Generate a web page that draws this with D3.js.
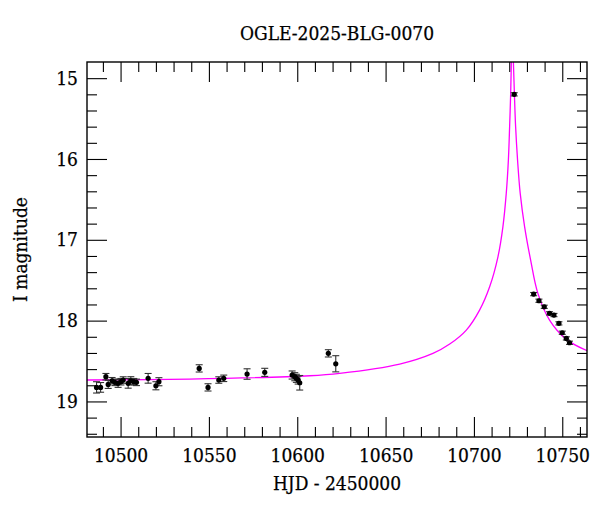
<!DOCTYPE html>
<html><head><meta charset="utf-8">
<script src="https://cdn.jsdelivr.net/npm/d3@7"></script>
<style>
html,body{margin:0;padding:0;background:#fff;}
text{font-family:"DejaVu Serif Condensed","DejaVu Serif",serif;font-stretch:condensed;fill:#000;stroke:#000;stroke-width:0.25px;}
</style></head>
<body>
<svg id="c" width="600" height="512"></svg>
<script>
// ---- data ----
const title = "OGLE-2025-BLG-0070";
const xLabel = "HJD - 2450000";
const yLabel = "I magnitude";

const obsHJD = [10486.4,10488.7,10491.7,10493.0,10495.2,10496.8,10498.6,10500.2,10501.5,10504.3,10505.8,10507.5,10509.0,10515.6,10520.0,10521.7,10544.5,10549.5,10555.6,10558.4,10571.6,10581.6,10597.1,10598.6,10599.5,10600.5,10601.4,10617.6,10621.8,10722.8,10733.8,10736.8,10739.8,10742.8,10745.3,10748.1,10750.0,10752.3,10754.1];
const obsMag = [18.826,18.826,18.694,18.789,18.744,18.764,18.776,18.756,18.735,18.776,18.744,18.756,18.764,18.714,18.806,18.756,18.591,18.826,18.735,18.714,18.661,18.640,18.673,18.694,18.714,18.735,18.769,18.405,18.534,15.200,17.672,17.754,17.829,17.910,17.931,18.034,18.150,18.220,18.274];
const obsErr = [0.070,0.060,0.040,0.050,0.040,0.040,0.050,0.040,0.040,0.060,0.050,0.040,0.040,0.060,0.050,0.050,0.045,0.045,0.040,0.040,0.065,0.050,0.050,0.050,0.050,0.050,0.090,0.045,0.100,0.020,0.020,0.020,0.020,0.020,0.020,0.020,0.020,0.020,0.020];

const modelHJD = [10481,10539,10607,10624,10658,10676.8,10686.3,10695.7,10703.2,10708.9,10713.6,10716.4,10718.3,10719.5,10720.2,10720.8,10721.2,10721.7,10722.3,10722.9,10723.6,10724.7,10726.2,10728.7,10732.1,10736.2,10742.8,10752.3,10764.1];
const modelMag = [18.735,18.723,18.682,18.652,18.537,18.405,18.290,18.117,17.870,17.581,17.210,16.839,16.426,16.014,15.602,15.189,14.777,14.45,14.777,15.189,15.602,16.014,16.426,16.839,17.251,17.663,17.993,18.232,18.373];

const xDomain = [10481, 10764];
const yDomain = [14.8, 19.44];
const xMajorTicks = [10500,10550,10600,10650,10700,10750];
const xMinorTicks = [10490,10510,10520,10530,10540,10560,10570,10580,10590,10610,10620,10630,10640,10660,10670,10680,10690,10710,10720,10730,10740,10760];
const yMajorTicks = [15,16,17,18,19];
const yMinorTicks = [15.2,15.4,15.6,15.8,16.2,16.4,16.6,16.8,17.2,17.4,17.6,17.8,18.2,18.4,18.6,18.8,19.2,19.4];

// ---- layout ----
const L = 87, T = 62, W = 500, H = 375;
const svg = d3.select("#c");
const x = d3.scaleLinear().domain(xDomain).range([L, L + W]);
const y = d3.scaleLinear().domain(yDomain).range([T, T + H]);
const fs = "19px";

svg.append("defs").append("clipPath").attr("id","plot")
  .append("rect").attr("x",L).attr("y",T).attr("width",W).attr("height",H);

function styleAxis(g){
  g.select(".domain").remove();
  g.selectAll(".tick line").attr("stroke","#000").attr("stroke-width",1.1);
  g.selectAll("text").attr("font-size",fs).attr("fill","#000");
}
// bottom
svg.append("g").attr("transform",`translate(0,${T+H})`)
  .call(d3.axisBottom(x).tickValues(xMajorTicks).tickSize(-20).tickPadding(12).tickFormat(d3.format("d")))
  .call(styleAxis);
svg.append("g").attr("transform",`translate(0,${T+H})`)
  .call(d3.axisBottom(x).tickValues(xMinorTicks).tickSize(-10).tickFormat(""))
  .call(styleAxis);
// top
svg.append("g").attr("transform",`translate(0,${T})`)
  .call(d3.axisTop(x).tickValues(xMajorTicks).tickSize(-20).tickFormat(""))
  .call(styleAxis);
svg.append("g").attr("transform",`translate(0,${T})`)
  .call(d3.axisTop(x).tickValues(xMinorTicks).tickSize(-10).tickFormat(""))
  .call(styleAxis);
// left
svg.append("g").attr("transform",`translate(${L},0)`)
  .call(d3.axisLeft(y).tickValues(yMajorTicks).tickSize(-20).tickPadding(9).tickFormat(d3.format("d")))
  .call(styleAxis);
svg.append("g").attr("transform",`translate(${L},0)`)
  .call(d3.axisLeft(y).tickValues(yMinorTicks).tickSize(-10).tickFormat(""))
  .call(styleAxis);
// right
svg.append("g").attr("transform",`translate(${L+W},0)`)
  .call(d3.axisRight(y).tickValues(yMajorTicks).tickSize(-20).tickFormat(""))
  .call(styleAxis);
svg.append("g").attr("transform",`translate(${L+W},0)`)
  .call(d3.axisRight(y).tickValues(yMinorTicks).tickSize(-10).tickFormat(""))
  .call(styleAxis);

// model curve
const line = d3.line().x((d,i)=>x(modelHJD[i])).y((d,i)=>y(modelMag[i])).curve(d3.curveCatmullRom.alpha(0.5));
svg.append("path").attr("clip-path","url(#plot)")
  .attr("d", line(modelHJD)).attr("fill","none").attr("stroke","#ff00ff").attr("stroke-width",1.3);

// data
const pts = svg.append("g").attr("clip-path","url(#plot)");
const idx = d3.range(obsHJD.length);
const cap = 3.5;
pts.selectAll("line.eb").data(idx).join("line").attr("class","eb")
  .attr("x1",i=>x(obsHJD[i])).attr("x2",i=>x(obsHJD[i]))
  .attr("y1",i=>y(obsMag[i]-obsErr[i])).attr("y2",i=>y(obsMag[i]+obsErr[i]))
  .attr("stroke","#333").attr("stroke-width",1.1);
pts.selectAll("line.ct").data(idx).join("line").attr("class","ct")
  .attr("x1",i=>x(obsHJD[i])-cap).attr("x2",i=>x(obsHJD[i])+cap)
  .attr("y1",i=>y(obsMag[i]-obsErr[i])).attr("y2",i=>y(obsMag[i]-obsErr[i]))
  .attr("stroke","#333").attr("stroke-width",1.1);
pts.selectAll("line.cb").data(idx).join("line").attr("class","cb")
  .attr("x1",i=>x(obsHJD[i])-cap).attr("x2",i=>x(obsHJD[i])+cap)
  .attr("y1",i=>y(obsMag[i]+obsErr[i])).attr("y2",i=>y(obsMag[i]+obsErr[i]))
  .attr("stroke","#333").attr("stroke-width",1.1);
pts.selectAll("circle").data(idx).join("circle")
  .attr("cx",i=>x(obsHJD[i])).attr("cy",i=>y(obsMag[i])).attr("r",2.6).attr("fill","#000");

// frame
svg.append("rect").attr("x",L).attr("y",T).attr("width",W).attr("height",H)
  .attr("fill","none").attr("stroke","#000").attr("stroke-width",1.4);

// labels
svg.append("text").attr("x",L+W/2).attr("y",40).attr("text-anchor","middle").attr("font-size",fs).text(title);
svg.append("text").attr("x",L+W/2).attr("y",490).attr("text-anchor","middle").attr("font-size",fs).text(xLabel);
svg.append("text").attr("transform",`translate(27,${T+H/2}) rotate(-90)`).attr("text-anchor","middle").attr("font-size",fs).text(yLabel);
</script>
</body></html>
